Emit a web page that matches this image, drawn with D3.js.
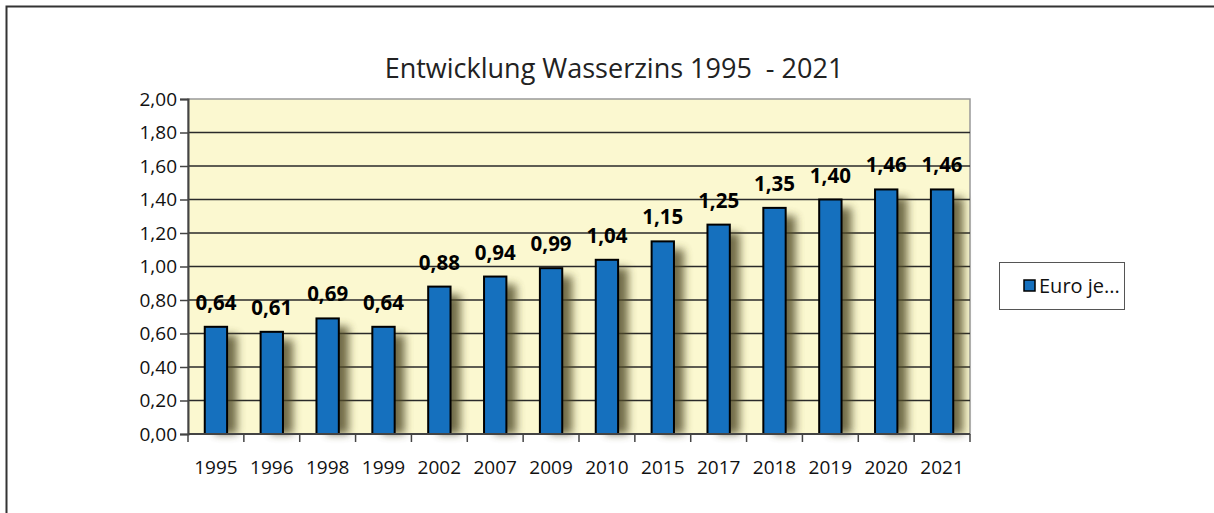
<!DOCTYPE html>
<html>
<head>
<meta charset="utf-8">
<script src="https://cdn.jsdelivr.net/npm/d3@7"></script>
<style>
  body { margin: 0; background: #fff; }
  text { font-family: "Open Sans", "Noto Sans", sans-serif; }
</style>
</head>
<body>
<script>
// chart values
var years = ["1995", "1996", "1998", "1999", "2002", "2007", "2009", "2010", "2015", "2017", "2018", "2019", "2020", "2021"];
var euroJeM3 = [0.64, 0.61, 0.69, 0.64, 0.88, 0.94, 0.99, 1.04, 1.15, 1.25, 1.35, 1.40, 1.46, 1.46];
var yTicks = [0, 0.2, 0.4, 0.6, 0.8, 1.0, 1.2, 1.4, 1.6, 1.8, 2.0];
var title = "Entwicklung Wasserzins 1995  - 2021";
var seriesName = "Euro je...";

var width = 1214, height = 513;
var plot = { left: 188, right: 970, top: 99, bottom: 434 };

var fmt = function(v) { return d3.format(".2f")(v).replace(".", ","); };

var svg = d3.select("body").append("svg")
    .attr("width", width)
    .attr("height", height);

var defs = svg.append("defs");
defs.append("filter")
    .attr("id", "shadow")
    .attr("x", "-50%").attr("y", "-20%")
    .attr("width", "200%").attr("height", "140%")
  .append("feGaussianBlur")
    .attr("stdDeviation", 4.5);

// outer frame
svg.append("rect")
    .attr("x", 6.5).attr("y", 6.5)
    .attr("width", width + 10).attr("height", height + 10)
    .attr("fill", "none")
    .attr("stroke", "#333")
    .attr("stroke-width", 2);

var x = d3.scaleBand()
    .domain(years)
    .range([plot.left, plot.right])
    .paddingInner(0.6)
    .paddingOuter(0.3);

var y = d3.scaleLinear()
    .domain([0, 2])
    .range([plot.bottom, plot.top]);

// plot background
svg.append("rect")
    .attr("x", plot.left).attr("y", plot.top)
    .attr("width", plot.right - plot.left)
    .attr("height", plot.bottom - plot.top)
    .attr("fill", "#fbf8d0")
    .attr("stroke", "#999")
    .attr("stroke-width", 1.5);

// gridlines
svg.append("g")
  .selectAll("line")
  .data(yTicks.slice(1, -1))
  .enter().append("line")
    .attr("x1", plot.left).attr("x2", plot.right)
    .attr("y1", function(d) { return y(d); })
    .attr("y2", function(d) { return y(d); })
    .attr("stroke", "#2a2a2a")
    .attr("stroke-width", 1.5);

// bar shadows
svg.append("g")
  .selectAll("rect")
  .data(euroJeM3)
  .enter().append("rect")
    .attr("x", function(d, i) { return x(years[i]) + 10; })
    .attr("y", function(d) { return y(d) + 8; })
    .attr("width", x.bandwidth())
    .attr("height", function(d) { return plot.bottom - y(d) - 8; })
    .attr("fill", "#4f4a28")
    .attr("opacity", 0.8)
    .attr("filter", "url(#shadow)");

// bars
svg.append("g")
  .selectAll("rect")
  .data(euroJeM3)
  .enter().append("rect")
    .attr("x", function(d, i) { return x(years[i]); })
    .attr("y", function(d) { return y(d); })
    .attr("width", x.bandwidth())
    .attr("height", function(d) { return plot.bottom - y(d); })
    .attr("fill", "#1570be")
    .attr("stroke", "#000")
    .attr("stroke-width", 2);

// value labels
svg.append("g")
  .selectAll("text")
  .data(euroJeM3)
  .enter().append("text")
    .attr("x", function(d, i) { return x(years[i]) + x.bandwidth() / 2; })
    .attr("y", function(d) { return y(d) - 17; })
    .attr("text-anchor", "middle")
    .attr("font-size", 20.5)
    .attr("font-weight", "bold")
    .attr("fill", "#000")
    .text(function(d) { return fmt(d); });

// y axis
var yAxis = svg.append("g")
    .attr("transform", "translate(" + plot.left + ",0)")
    .call(d3.axisLeft(y).tickValues(yTicks).tickFormat(fmt).tickSize(8).tickPadding(3));
yAxis.select(".domain").attr("stroke", "#444").attr("stroke-width", 2);
yAxis.selectAll(".tick line").attr("stroke", "#444").attr("stroke-width", 1.5);
yAxis.selectAll(".tick text")
    .attr("font-size", 19)
    .attr("fill", "#111")
    .style("font-family", '"Open Sans", "Noto Sans", sans-serif');

// x axis: ticks on category boundaries
var xAxis = svg.append("g")
    .attr("transform", "translate(0," + plot.bottom + ")");
xAxis.append("line")
    .attr("x1", plot.left).attr("x2", plot.right)
    .attr("stroke", "#444").attr("stroke-width", 2);
var step = (plot.right - plot.left) / years.length;
xAxis.selectAll("line.tk")
  .data(d3.range(years.length + 1))
  .enter().append("line")
    .attr("class", "tk")
    .attr("x1", function(i) { return plot.left + i * step; })
    .attr("x2", function(i) { return plot.left + i * step; })
    .attr("y1", 0).attr("y2", 8)
    .attr("stroke", "#444").attr("stroke-width", 1.5);
xAxis.selectAll("text")
  .data(years)
  .enter().append("text")
    .attr("x", function(d) { return x(d) + x.bandwidth() / 2; })
    .attr("y", 40)
    .attr("text-anchor", "middle")
    .attr("font-size", 19)
    .attr("fill", "#111")
    .text(function(d) { return d; });

// title
svg.append("text")
    .attr("x", 614).attr("y", 78)
    .attr("text-anchor", "middle")
    .attr("font-size", 27)
    .attr("fill", "#222")
    .style("white-space", "pre")
    .text(title);

// legend
var legend = svg.append("g").attr("transform", "translate(999,262)");
legend.append("rect")
    .attr("x", 0.5).attr("y", 0.5)
    .attr("width", 125).attr("height", 47)
    .attr("fill", "#fff")
    .attr("stroke", "#555");
legend.append("rect")
    .attr("x", 25).attr("y", 18)
    .attr("width", 11).attr("height", 11)
    .attr("fill", "#1570be")
    .attr("stroke", "#000")
    .attr("stroke-width", 1.5);
legend.append("text")
    .attr("x", 40).attr("y", 31)
    .attr("font-size", 20)
    .attr("fill", "#111")
    .text(seriesName);
</script>
</body>
</html>
